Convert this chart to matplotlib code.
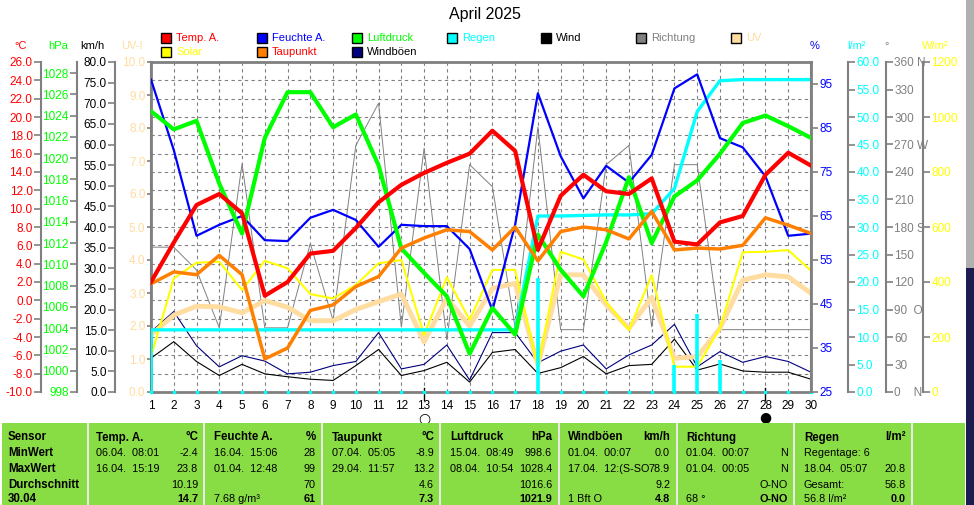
import matplotlib
matplotlib.use('Agg')
import matplotlib.pyplot as plt
from matplotlib.patches import Rectangle
from matplotlib.transforms import blended_transform_factory
import numpy as np

plt.rcParams['font.family'] = ['Liberation Sans', 'DejaVu Sans']

# Monatswerte April 2025
days = list(range(1, 31))
temp = [2.0, 6.3, 10.4, 11.6, 9.5, 0.5, 2.0, 5.1, 5.4, 7.9, 10.7, 12.6, 13.9, 15.0, 16.0,
        18.5, 16.3, 5.5, 11.4, 13.7, 11.9, 11.6, 13.3, 6.4, 6.1, 8.5, 9.2, 13.7, 16.1, 14.7]
dew = [1.8, 3.1, 2.8, 4.9, 2.8, -6.4, -5.2, -1.1, -0.5, 1.5, 2.6, 5.7, 6.8, 7.7, 7.5,
       5.5, 8.0, 4.3, 7.5, 8.0, 7.7, 6.7, 9.7, 5.5, 5.7, 5.6, 6.0, 9.0, 8.2, 7.3]
humidity = [96, 80, 60.5, 63, 65, 59.5, 59.3, 64.6, 66.4, 64.1, 58, 63, 62.7, 62.7, 57.5,
            43.6, 63, 92.9, 78.6, 69, 76.4, 72.6, 78.9, 94, 97.2, 82.7, 80.6, 74, 60.5, 61]
pressure = [1024.4, 1022.7, 1023.5, 1017.6, 1012.9, 1021.9, 1026.2, 1026.2, 1022.9, 1024.1,
            1019.3, 1011.5, 1009.2, 1007.0, 1001.6, 1005.9, 1003.4, 1012.8, 1009.5, 1007.0,
            1012.1, 1018.2, 1012.0, 1016.4, 1017.9, 1020.4, 1023.3, 1024.0, 1023.0, 1021.9]
rain_cum = [11.3, 11.3, 11.3, 11.3, 11.3, 11.3, 11.3, 11.3, 11.3, 11.3, 11.3, 11.3, 11.3, 11.3, 11.3,
            11.3, 11.3, 32.0, 32.0, 32.1, 32.2, 32.2, 32.4, 37.0, 51.0, 56.6, 56.8, 56.8, 56.8, 56.8]
rain_daily = [11.3, 0, 0, 0, 0, 0, 0, 0, 0, 0, 0, 0, 0, 0, 0,
              0, 0, 20.8, 0, 0, 0, 0, 0, 4.9, 14.2, 5.9, 0, 0, 0, 0]
wind = [8.2, 12.2, 7.4, 4.0, 6.7, 4.4, 3.7, 3.1, 2.8, 6.4, 10.3, 4.0, 5.2, 7.2, 2.4,
        9.6, 10.3, 4.5, 5.9, 8.6, 4.4, 6.4, 6.7, 12.8, 5.3, 6.8, 5.1, 4.8, 4.8, 3.1]
gusts = [14.6, 19.5, 11.2, 6.1, 8.8, 7.5, 4.4, 4.8, 6.4, 7.4, 14.4, 5.6, 6.7, 11.4, 2.9,
         14.4, 14.4, 7.1, 9.9, 11.4, 5.6, 9.0, 11.4, 16.4, 6.1, 9.8, 7.2, 8.6, 7.4, 4.8]
direction = [158, 158, 133, 70, 249, 70, 70, 162, 78, 269, 315, 71, 266, 57, 248,
             224, 70, 289, 68, 68, 248, 269, 71, 248, 248, 68, 68, 68, 68, 68]
uv = [1.73, 2.33, 2.6, 2.58, 2.4, 2.77, 2.57, 2.16, 2.16, 2.5, 2.74, 2.97, 1.52, 2.84, 2.0,
      3.14, 3.29, 0.82, 3.55, 3.55, 2.64, 1.93, 2.87, 1.02, 1.07, 1.93, 3.39, 3.55, 3.49, 2.99]
solar = [128, 413, 470, 474, 371, 477, 450, 356, 340, 389, 468, 480, 207, 417, 262,
         444, 444, 92, 510, 482, 328, 225, 425, 92, 92, 232, 508, 510, 516, 441]

# Tabelle unten
table_cols = [
    ("Temp. A.", "°C", [("06.04.  08:01", "-2.4"), ("16.04.  15:19", "23.8"), ("", "10.19"), ("", "14.7")]),
    ("Feuchte A.", "%", [("16.04.  15:06", "28"), ("01.04.  12:48", "99"), ("", "70"), ("7.68 g/m³", "61")]),
    ("Taupunkt", "°C", [("07.04.  05:05", "-8.9"), ("29.04.  11:57", "13.2"), ("", "4.6"), ("", "7.3")]),
    ("Luftdruck", "hPa", [("15.04.  08:49", "998.6"), ("08.04.  10:54", "1028.4"), ("", "1016.6"), ("", "1021.9")]),
    ("Windböen", "km/h", [("01.04.  00:07", "0.0"), ("17.04.  12:(S-SO", "78.9"), ("", "9.2"), ("1 Bft O", "4.8")]),
    ("Richtung", "", [("01.04.  00:07", "N"), ("01.04.  00:05", "N"), ("", "O-NO"), ("68 °", "O-NO")]),
    ("Regen", "l/m²", [("Regentage: 6", ""), ("18.04.  05:07", "20.8"), ("Gesamt:", "56.8"), ("56.8 l/m²", "0.0")]),
]
row_names = ["Sensor", "MinWert", "MaxWert", "Durchschnitt", "30.04"]

W, H = 974, 505
GRAY = '#808080'
RED, BLUE, GREEN, CYAN = '#FF0000', '#0000FF', '#00FF00', '#00FFFF'
NAVY, ORANGE, YELLOW, PEACH = '#000080', '#FF8000', '#FFFF00', '#FFDCA0'

fig = plt.figure(figsize=(W / 100, H / 100), dpi=100)
fig.patch.set_facecolor('white')


def fx(x):
    return x / W


def fy(y):
    return 1 - y / H


L, R, T, B = 151, 811, 62, 392
ax = fig.add_axes([fx(L), fy(B), (R - L) / W, (B - T) / H])
ax.set_xlim(1, 30)
ax.set_ylim(-10, 26)
ax.set_yticks(np.arange(-10, 27, 2))
ax.set_xticks(days)
ax.grid(True, color=GRAY, linestyle=(0, (3, 3)), linewidth=0.8)
ax.tick_params(axis='y', length=0, labelleft=False)
ax.tick_params(axis='x', length=0, labelsize=8.5, pad=6)
for s in ax.spines.values():
    s.set_color(GRAY)
    s.set_linewidth(2)


def scale_axis(side, pos, lo, hi, ticks, labels, color, length=5):
    a = ax.twinx()
    a.set_ylim(lo, hi)
    a.set_xlim(1, 30)
    for s in a.spines.values():
        s.set_visible(False)
    sp = a.spines[side]
    sp.set_visible(True)
    sp.set_position(('axes', pos))
    sp.set_color(GRAY)
    sp.set_linewidth(1.5)
    if side == 'left':
        a.yaxis.tick_left()
    else:
        a.yaxis.tick_right()
    a.set_yticks(ticks)
    a.set_yticklabels(labels)
    a.tick_params(axis='y', colors=GRAY, labelcolor=color, length=length, width=1.2,
                  labelsize=8.5, pad=1)
    return a


deg_ticks = list(range(0, 361, 30))
deg_labels = {360: "360 N", 270: "270 W", 180: "180 S", 90: "90  O", 0: "0    N"}
a_deg = scale_axis('right', 1.1136, 0, 360, deg_ticks,
                   [deg_labels.get(t, str(t)) for t in deg_ticks], GRAY)
a_deg.plot(days, direction, color=GRAY, lw=0.7)

kmh_ticks = np.arange(0, 81, 5)
a_kmh = scale_axis('left', -0.0545, 0, 80, kmh_ticks, ["%.1f" % t for t in kmh_ticks], 'black')
a_kmh.plot(days, wind, color='black', lw=0.8)
a_kmh.plot(days, gusts, color=NAVY, lw=0.8)

uv_ticks = np.arange(0, 11, 1)
a_uv = scale_axis('left', 0, 0, 10, uv_ticks, ["%.1f" % t for t in uv_ticks], PEACH, length=3)
a_uv.plot(days, uv, color=PEACH, lw=3.5, solid_capstyle='round')

sol_ticks = np.arange(0, 1201, 200)
a_sol = scale_axis('right', 1.1697, 0, 1200, sol_ticks, [str(t) for t in sol_ticks], YELLOW)
a_sol.plot(days, solar, color=YELLOW, lw=1.5)

rain_ticks = np.arange(0, 61, 5)
a_rain = scale_axis('right', 1.056, 0, 60, rain_ticks, ["%.1f" % t for t in rain_ticks], CYAN)
a_rain.vlines(days, 0, rain_daily, color=CYAN, lw=2.6)
a_rain.plot(days, rain_cum, color=CYAN, lw=2.4)
a_rain.scatter(days, [0] * len(days), marker='s', s=2, color=CYAN, clip_on=False, zorder=5)

hum_ticks = np.arange(25, 96, 10)
a_hum = scale_axis('right', 1.0, 25, 100, hum_ticks, [str(t) for t in hum_ticks], BLUE)
a_hum.plot(days, humidity, color=BLUE, lw=1.6)

hpa_ticks = np.arange(998, 1029, 2)
a_hpa = scale_axis('left', -0.1121, 998, 998 + 330 / 10.633, hpa_ticks,
                   [str(t) for t in hpa_ticks], GREEN)
a_hpa.plot(days, pressure, color=GREEN, lw=3)

t_ticks = np.arange(-10, 27, 2)
a_temp = scale_axis('left', -0.1667, -10, 26, t_ticks, ["%.1f" % t for t in t_ticks], RED)
a_temp.plot(days, dew, color=ORANGE, lw=2.5)
a_temp.plot(days, temp, color=RED, lw=3)

# Mondphasen
tr = blended_transform_factory(ax.transData, ax.transAxes)
for d, sym in [(13, '○'), (28, '●')]:
    ax.plot([d, d], [-0.024, 0.012], color='black', lw=1, transform=tr, clip_on=False)
    ax.text(d, -0.078, sym, transform=tr, ha='center', va='center', fontsize=10,
            family=['DejaVu Sans'])

# Titel und Achsentitel
fig.text(fx(485), fy(15), "April 2025", ha='center', va='center', fontsize=11.5)
for x, s, c in [(21, "°C", RED), (58, "hPa", GREEN), (92, "km/h", 'black'), (132, "UV-I", PEACH),
                (815, "%", BLUE), (857, "l/m²", CYAN), (887, "°", GRAY), (935, "W/m²", YELLOW)]:
    fig.text(fx(x), fy(46), s, color=c, ha='center', va='center', fontsize=8)

# Legende
legend = [
    (161, 38, "Temp. A.", RED, RED), (257, 38, "Feuchte A.", BLUE, BLUE),
    (352, 38, "Luftdruck", GREEN, GREEN), (447, 38, "Regen", CYAN, CYAN),
    (541, 38, "Wind", 'black', 'black'), (636, 38, "Richtung", GRAY, GRAY),
    (731, 38, "UV", PEACH, PEACH),
    (161, 52, "Solar", YELLOW, YELLOW), (257, 52, "Taupunkt", ORANGE, RED),
    (352, 52, "Windböen", NAVY, 'black'),
]
for x, y, s, fc, tc in legend:
    fig.patches.append(Rectangle((fx(x), fy(y + 5)), 10 / W, 10 / H, transform=fig.transFigure,
                                 facecolor=fc, edgecolor='black', lw=1))
    fig.text(fx(x + 15), fy(y), s, color=tc, ha='left', va='center', fontsize=8)

# Tabelle
fig.patches.append(Rectangle((fx(2), 0), (965 - 2) / W, fy(423), transform=fig.transFigure,
                             facecolor='#89DD44', edgecolor='none'))
for x in [88, 204, 322, 440, 559, 677, 794, 912]:
    fig.patches.append(Rectangle((fx(x - 1), 0), 2 / W, fy(423), transform=fig.transFigure,
                                 facecolor='#E8E8E8', edgecolor='none'))
rows_y = [437.5, 453.5, 469.5, 485, 499.5]
for i, name in enumerate(row_names):
    fig.text(fx(8), fy(rows_y[i]), name, ha='left', va='center', fontsize=8.3, weight='bold')
for j, (head, unit, vals) in enumerate(table_cols):
    x0 = 96 + j * 118
    x1 = 198 + j * 118
    fig.text(fx(x0), fy(rows_y[0]), head, ha='left', va='center', fontsize=8.3, weight='bold')
    fig.text(fx(x1), fy(rows_y[0]), unit, ha='right', va='center', fontsize=8.3, weight='bold')
    for k, (left, right) in enumerate(vals):
        bold = 'bold' if k == 3 else 'normal'
        fig.text(fx(x0), fy(rows_y[k + 1]), left, ha='left', va='center', fontsize=7.8)
        fig.text(fx(x1), fy(rows_y[k + 1]), right, ha='right', va='center', fontsize=7.8,
                 weight=bold)

# Fensterrand rechts
fig.patches.append(Rectangle((fx(966), fy(268)), 8 / W, 268 / H, transform=fig.transFigure,
                             facecolor='#B0B0B0', edgecolor='none'))
fig.patches.append(Rectangle((fx(966), 0), 8 / W, fy(268), transform=fig.transFigure,
                             facecolor='#1C1C50', edgecolor='none'))

fig.savefig('out.png', dpi=100)
